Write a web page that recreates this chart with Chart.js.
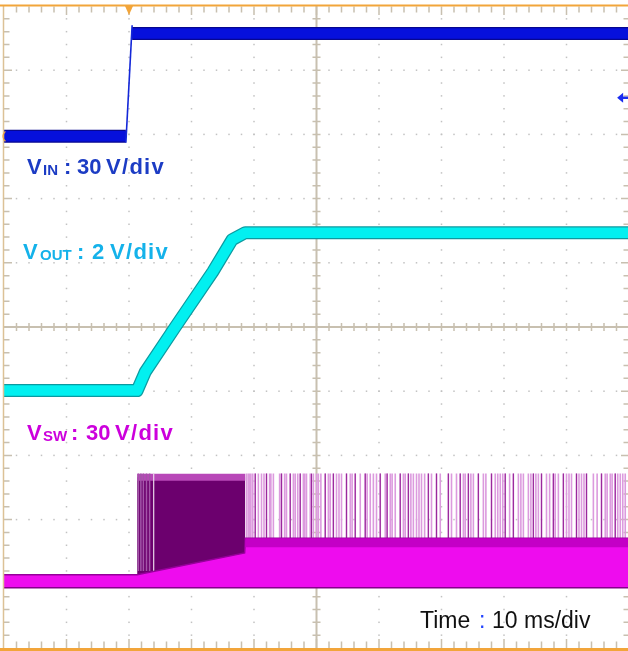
<!DOCTYPE html>
<html><head><meta charset="utf-8">
<script src="https://cdn.jsdelivr.net/npm/chart.js@4.4.1/dist/chart.umd.min.js"></script>
<style>
html,body{margin:0;padding:0;background:#fff;overflow:hidden;width:628px;height:651px;}
#wrap{position:relative;width:628px;height:651px;overflow:hidden;background:#fff;}
canvas{position:absolute;left:0;top:0;}
.t{position:absolute;white-space:pre;line-height:1;font-family:"Liberation Sans",Arial,sans-serif;}
.b{font-weight:bold;}
.s22{font-size:22px;}
.s15{font-size:15px;}
.s23{font-size:23px;}
.ls{letter-spacing:1.3px;}
.cin{color:#1c3cc4;}
.cout{color:#14b2ea;}
.csw{color:#cc00dc;}
</style></head><body>
<div id="wrap">
<canvas id="c" width="634" height="651"></canvas>
<div class="t b s22 cin" style="left:27px;top:156.4px">V</div>
<div class="t b s15 cin" style="left:43px;top:162.3px">IN</div>
<div class="t b s22 cin" style="left:64px;top:156.4px">:</div>
<div class="t b s22 cin" style="left:77px;top:156.4px">30</div>
<div class="t b s22 cin ls" style="left:106px;top:156.4px">V/div</div>

<div class="t b s22 cout" style="left:23px;top:241.4px">V</div>
<div class="t b s15 cout" style="left:40px;top:247.3px">OUT</div>
<div class="t b s22 cout" style="left:77px;top:241.4px">:</div>
<div class="t b s22 cout" style="left:92px;top:241.4px">2</div>
<div class="t b s22 cout ls" style="left:110px;top:241.4px">V/div</div>

<div class="t b s22 csw" style="left:27px;top:422.4px">V</div>
<div class="t b s15 csw" style="left:43px;top:428.3px">SW</div>
<div class="t b s22 csw" style="left:71px;top:422.4px">:</div>
<div class="t b s22 csw" style="left:86px;top:422.4px">30</div>
<div class="t b s22 csw ls" style="left:115px;top:422.4px">V/div</div>

<div class="t s23" style="left:420px;top:608.5px;color:#111">Time</div>
<div class="t s23" style="left:479px;top:608.5px;color:#2244ff">:</div>
<div class="t s23" style="left:492px;top:608.5px;color:#111">10 ms/div</div>
</div>
<script>
// Horizontal: time in ms (10 ms/div). Vertical: screen divisions (center = 0).
const xDivs = [0, 10, 20, 30, 40, 50, 60, 70, 80, 90, 100];
const yDivs = [-5, -4, -3, -2, -1, 0, 1, 2, 3, 4, 5];
const triggerTime = 20;
const vinGroundLevel = 3.57;

// V_IN (30 V/div)
const vinLowX = [0, 19.5];
const vinLowY = [2.97, 2.97];
const vinHighX = [20.5, 100];
const vinHighY = [4.57, 4.57];
const vinEdgeX = [19.5, 20.5];
const vinEdgeY = [2.87, 4.70];

// V_OUT (2 V/div)
const voutX = [0, 21.3, 22.6, 27.4, 33.4, 36.5, 38.6, 100];
const voutY = [-0.99, -0.99, -0.70, 0.0, 0.86, 1.36, 1.47, 1.47];

// V_SW (30 V/div)
const vswTopX = [0, 21.3, 38.5, 38.6, 100];
const vswTopY = [-3.86, -3.86, -3.52, -3.29, -3.29];
const vswBottomY = -4.06;
const vswShadeX = [38.6, 100];
const vswShadeY = [-3.36, -3.36];
const vswBurstX = [21.3, 38.6];
const vswBurstY = [-2.34, -2.34];
const vswPulseHigh = -2.28;
const vswPulseLow = -3.29;
const vswPulseLight = [38.8, 39.1, 39.3, 39.5, 39.8, 40.2, 40.7, 41.2, 41.6, 42.0, 42.5, 42.7, 43.1, 44.1, 44.4, 44.9, 45.2, 45.8, 46.3, 46.6, 47.0, 47.4, 47.9, 48.1, 48.4, 49.0, 49.5, 50.0, 50.3, 50.7, 51.4, 51.9, 52.2, 52.7, 53.2, 53.6, 54.0, 54.8, 55.4, 55.7, 56.2, 57.0, 57.8, 58.1, 58.6, 59.1, 59.6, 60.2, 61.0, 61.3, 61.8, 62.1, 62.6, 63.4, 63.9, 64.2, 64.7, 65.1, 65.5, 66.0, 66.4, 66.8, 67.3, 67.9, 68.4, 69.2, 69.8, 71.1, 71.6, 72.4, 73.0, 73.5, 73.8, 74.3, 74.7, 75.1, 75.9, 76.7, 77.1, 78.0, 78.6, 79.0, 79.4, 79.8, 80.2, 80.9, 81.5, 82.3, 82.7, 83.1, 83.9, 84.3, 84.7, 85.1, 85.5, 86.0, 86.8, 87.3, 87.9, 88.2, 88.7, 89.5, 90.0, 90.4, 90.8, 91.6, 92.0, 92.4, 92.8, 93.2, 94.3, 94.9, 95.6, 96.2, 96.5, 97.0, 97.3, 97.8, 98.2, 98.6, 99.0, 99.4];
const vswPulseDark = [40.2, 42.0, 44.4, 45.8, 47.4, 49.2, 51.4, 52.7, 54.8, 56.2, 57.8, 60.2, 61.3, 63.4, 64.7, 67.9, 69.2, 71.1, 73.0, 74.3, 75.9, 78.0, 80.2, 81.5, 84.7, 86.0, 87.9, 89.5, 91.6, 93.2, 95.6, 97.8];
const vswBurstStripes = [21.5, 21.9, 22.3, 22.8, 23.3];
const vswBurstGap = [23.95];

function pts(xs, ys) { return xs.map((x, i) => ({ x: x, y: ys[i] })); }
function pulses(xs, lo, hi) {
  const d = [];
  xs.forEach(x => { d.push({ x: x, y: lo }, { x: x, y: hi }, { x: x, y: null }); });
  return d;
}
const vinBand = pts(vinLowX, vinLowY).concat([{ x: 20, y: null }], pts(vinHighX, vinHighY));

const datasets = [
  { data: pts(vinEdgeX, vinEdgeY), borderColor: '#1428d8', borderWidth: 1.6, order: 0 },
  { data: vinBand, borderColor: '#0610dc', borderWidth: 10.5, order: 1 },
  { data: vinBand, borderColor: '#070790', borderWidth: 13, order: 2 },
  { data: pts(voutX, voutY), borderColor: '#02f0f0', borderWidth: 10.5, borderJoinStyle: 'round', order: 3 },
  { data: pts(voutX, voutY), borderColor: '#0c9aa0', borderWidth: 13, borderJoinStyle: 'round', order: 4 },
  { data: [{ x: 0, y: vswBottomY }, { x: 100, y: vswBottomY }], borderColor: '#86008a', borderWidth: 1.5, order: 5 },
  { data: pts(vswShadeX, vswShadeY), borderColor: '#c400c6', borderWidth: 9, order: 6 },
  { data: pts(vswTopX, vswTopY), borderColor: '#96009a', borderWidth: 1.5, backgroundColor: '#ee0cee', fill: { value: vswBottomY }, order: 7 },
  { data: pulses(vswPulseDark, vswPulseLow, vswPulseHigh), borderColor: '#9a289c', borderWidth: 1.2, order: 8 },
  { data: pulses(vswPulseLight, vswPulseLow, vswPulseHigh), borderColor: '#dc9ade', borderWidth: 1.6, order: 9 },
  { data: pulses(vswBurstGap, -3.8, vswPulseHigh), borderColor: '#ead6ea', borderWidth: 1.2, order: 10 },
  { data: pulses(vswBurstStripes, -3.8, vswPulseHigh), borderColor: '#a356a8', borderWidth: 1.5, order: 11 },
  { data: pts(vswBurstX, vswBurstY), borderColor: '#b848b8', borderWidth: 7, backgroundColor: '#6c006e', fill: { value: -3.9 }, order: 12 }
];
datasets.forEach(d => { d.pointRadius = 0; d.tension = 0; d.spanGaps = false; if (!d.fill) d.fill = false; });

const scopeGrid = {
  id: 'scopeGrid',
  beforeDatasetsDraw(chart) {
    const { ctx, chartArea: a, scales: { x, y } } = chart;
    ctx.save();
    // dotted graticule
    ctx.fillStyle = '#c2c2c2';
    xDivs.forEach(xv => {
      if (xv === 0 || xv === 50 || xv === 100) return;
      const px = x.getPixelForValue(xv);
      for (let k = 1; k < 50; k++) {
        const py = y.getPixelForValue(-5 + k * 0.2);
        ctx.fillRect(px - 0.75, py - 0.75, 1.5, 1.5);
      }
    });
    yDivs.forEach(yv => {
      if (yv === -5 || yv === 0 || yv === 5) return;
      const py = y.getPixelForValue(yv);
      for (let k = 1; k < 50; k++) {
        const px = x.getPixelForValue(k * 2);
        ctx.fillRect(px - 0.75, py - 0.75, 1.5, 1.5);
      }
    });
    // center axes with ticks
    ctx.strokeStyle = '#c8c0b0';
    ctx.lineWidth = 2;
    const cx = x.getPixelForValue(50), cy = y.getPixelForValue(0);
    ctx.beginPath();
    ctx.moveTo(cx, a.top); ctx.lineTo(cx, a.bottom);
    ctx.moveTo(a.left, cy); ctx.lineTo(a.right, cy);
    ctx.stroke();
    ctx.lineWidth = 1.5;
    ctx.beginPath();
    for (let k = 1; k < 50; k++) {
      const px = x.getPixelForValue(k * 2);
      ctx.moveTo(px, cy - 4); ctx.lineTo(px, cy + 4);
      const py = y.getPixelForValue(-5 + k * 0.2);
      ctx.moveTo(cx - 4, py); ctx.lineTo(cx + 4, py);
    }
    // border ticks
    for (let k = 1; k < 50; k++) {
      const px = x.getPixelForValue(k * 2);
      const major = k % 5 === 0;
      ctx.moveTo(px, a.top + 0.5); ctx.lineTo(px, a.top + (major ? 9 : 6.5));
      ctx.moveTo(px, a.bottom); ctx.lineTo(px, a.bottom - (major ? 9 : 6.5));
      const py = y.getPixelForValue(-5 + k * 0.2);
      ctx.moveTo(a.left, py); ctx.lineTo(a.left + (major ? 8 : 5.5), py);
      ctx.moveTo(a.right, py); ctx.lineTo(a.right - (major ? 8 : 5.5), py);
    }
    ctx.stroke();
    ctx.restore();
  },
  afterDatasetsDraw(chart) {
    const { ctx, chartArea: a, scales: { x, y } } = chart;
    ctx.save();
    // left border
    ctx.strokeStyle = '#dcc196';
    ctx.lineWidth = 1.5;
    ctx.beginPath(); ctx.moveTo(a.left - 0.5, a.top); ctx.lineTo(a.left - 0.5, a.bottom); ctx.stroke();
    // top/bottom orange borders
    ctx.fillStyle = '#f2a53a';
    ctx.fillRect(0, a.top - 1.5, a.right + 10, 2);
    ctx.fillRect(0, a.bottom, a.right + 10, 3);
    // trigger marker
    const tx = x.getPixelForValue(triggerTime);
    ctx.beginPath();
    ctx.moveTo(tx - 4, a.top); ctx.lineTo(tx + 4, a.top); ctx.lineTo(tx, a.top + 9); ctx.closePath();
    ctx.fill();
    // channel ground arrow (VIN)
    const gy = y.getPixelForValue(vinGroundLevel);
    const gx = x.getPixelForValue(98.1);
    ctx.fillStyle = '#1a2cf0';
    ctx.beginPath();
    ctx.moveTo(gx, gy); ctx.lineTo(gx + 6, gy - 5); ctx.lineTo(gx + 6, gy + 5); ctx.closePath(); ctx.fill();
    ctx.fillRect(gx + 5, gy - 1.2, 12, 2.4);
    // left channel marker
    ctx.strokeStyle = '#f2a53a';
    ctx.lineWidth = 1.2;
    const ly = y.getPixelForValue(vinLowY[0]);
    ctx.beginPath(); ctx.arc(a.left + 5, ly, 6, Math.PI * 0.7, Math.PI * 1.3); ctx.stroke();
    ctx.restore();
  }
};

new Chart(document.getElementById('c'), {
  type: 'line',
  data: { datasets: datasets },
  options: {
    responsive: false,
    animation: false,
    events: [],
    layout: { padding: { left: 4, right: 5, top: 6, bottom: 3 } },
    plugins: { legend: { display: false }, tooltip: { enabled: false } },
    scales: {
      x: { type: 'linear', min: 0, max: 100, display: false },
      y: { type: 'linear', min: -5, max: 5, display: false }
    }
  },
  plugins: [scopeGrid]
});
</script>
</body></html>
